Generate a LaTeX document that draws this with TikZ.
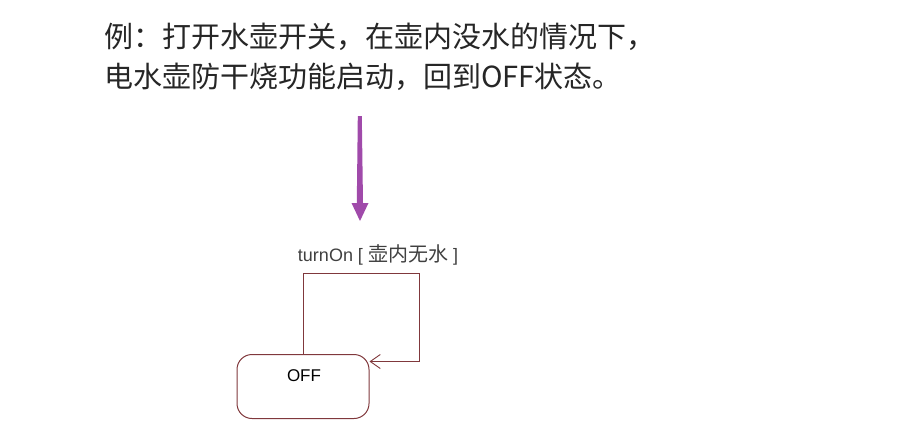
\documentclass[tikz,border=0pt]{standalone}
\usepackage{fontspec}
\setmainfont{Liberation Sans}
\newfontfamily\cjk{Noto Sans CJK SC}
\usetikzlibrary{arrows.meta}
\definecolor{statecol}{RGB}{128,56,60}
\definecolor{arrowpurple}{RGB}{160,74,170}
\definecolor{labelgray}{RGB}{64,64,64}
\tikzset{
  heading/.style={anchor=base west, inner sep=0pt, font=\cjk\fontsize{29}{34}\selectfont, text=black!85},
  statebox/.style={draw=statecol, line width=1pt, rounded corners=15pt, minimum width=132pt, minimum height=64pt, inner sep=0pt},
  trans/.style={draw=statecol, line width=1.25pt, -{Straight Barb[length=10pt,width=14pt,line width=0.9pt]}},
  guard/.style={anchor=center, inner sep=0pt, text=labelgray, font=\fontsize{18}{20}\selectfont}
}
\begin{document}
\begin{tikzpicture}[x=1pt,y=-1pt]
\useasboundingbox (0,0) rectangle (924,432);
\node[heading] (l1) at (104,47.5) {例：打开水壶开关，在壶内没水的情况下，};
\node[heading] (l2) at (104,87.5) {电水壶防干烧功能启动，回到OFF状态。};
% big purple arrow
\fill[arrowpurple] (357.8,116) -- (361.8,116) -- (363,203) -- (368.5,203) -- (360,221) -- (351.5,203) -- (356.8,203) -- cycle;
% state
\node[statebox] (off) at (303,386.5) {};
\node[inner sep=0pt, font=\fontsize{17}{19}\selectfont, text=black] (offlbl) at (304,376) {OFF};
\coordinate (s) at (303.5,354.5);
\coordinate (c1) at (303.5,273.5);
\coordinate (c2) at (419.5,273.5);
\coordinate (c3) at (419.5,361.5);
\draw[trans] (s) -- (c1) -- (c2) -- (c3) -- (off.east |- c3);
\node[guard] (g) at (378,255) {turnOn [ {\cjk\fontsize{20}{22}\selectfont 壶内无水} ]};
\end{tikzpicture}
\end{document}
